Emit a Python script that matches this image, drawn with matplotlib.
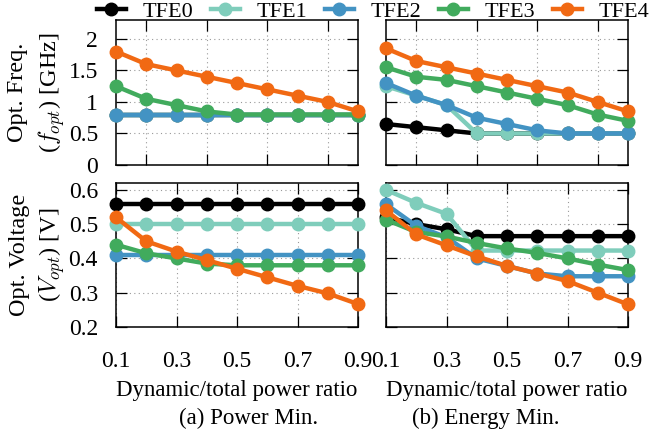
import matplotlib
matplotlib.use("Agg")
import matplotlib.pyplot as plt
import numpy as np

plt.rcParams['font.family'] = ['Liberation Serif', 'DejaVu Serif']
plt.rcParams['mathtext.fontset'] = 'cm'

ratio = [0.1, 0.2, 0.3, 0.4, 0.5, 0.6, 0.7, 0.8, 0.9]
names = ["TFE0", "TFE1", "TFE2", "TFE3", "TFE4"]
colors = ["#000000", "#7fcdbb", "#4393c3", "#41ab5d", "#f16913"]

# (a) Power Min. - optimal frequency [GHz]
freq_power = {
    "TFE0": [0.8, 0.8, 0.8, 0.8, 0.8, 0.8, 0.8, 0.8, 0.8],
    "TFE1": [0.8, 0.8, 0.8, 0.8, 0.8, 0.8, 0.8, 0.8, 0.8],
    "TFE2": [0.8, 0.8, 0.8, 0.8, 0.8, 0.8, 0.8, 0.8, 0.8],
    "TFE3": [1.25, 1.05, 0.95, 0.85, 0.8, 0.8, 0.8, 0.8, 0.8],
    "TFE4": [1.8, 1.6, 1.5, 1.4, 1.3, 1.2, 1.1, 1.0, 0.85],
}
# (b) Energy Min. - optimal frequency [GHz]
freq_energy = {
    "TFE0": [0.65, 0.6, 0.55, 0.5, 0.5, 0.5, 0.5, 0.5, 0.5],
    "TFE1": [1.25, 1.1, 0.95, 0.5, 0.5, 0.5, 0.5, 0.5, 0.5],
    "TFE2": [1.3, 1.1, 0.95, 0.75, 0.65, 0.55, 0.5, 0.5, 0.5],
    "TFE3": [1.55, 1.4, 1.35, 1.25, 1.15, 1.05, 0.95, 0.8, 0.7],
    "TFE4": [1.85, 1.65, 1.55, 1.45, 1.35, 1.25, 1.15, 1.0, 0.85],
}
# (a) Power Min. - optimal voltage [V]
volt_power = {
    "TFE0": [0.56, 0.56, 0.56, 0.56, 0.56, 0.56, 0.56, 0.56, 0.56],
    "TFE1": [0.5, 0.5, 0.5, 0.5, 0.5, 0.5, 0.5, 0.5, 0.5],
    "TFE2": [0.41, 0.41, 0.41, 0.41, 0.41, 0.41, 0.41, 0.41, 0.41],
    "TFE3": [0.44, 0.415, 0.40, 0.385, 0.38, 0.38, 0.38, 0.38, 0.38],
    "TFE4": [0.52, 0.45, 0.42, 0.395, 0.37, 0.345, 0.32, 0.298, 0.267],
}
# (b) Energy Min. - optimal voltage [V]
volt_energy = {
    "TFE0": [0.52, 0.50, 0.485, 0.465, 0.465, 0.465, 0.465, 0.465, 0.465],
    "TFE1": [0.60, 0.562, 0.53, 0.423, 0.423, 0.423, 0.423, 0.423, 0.423],
    "TFE2": [0.558, 0.495, 0.462, 0.40, 0.378, 0.356, 0.348, 0.348, 0.348],
    "TFE3": [0.513, 0.477, 0.464, 0.445, 0.429, 0.416, 0.40, 0.382, 0.366],
    "TFE4": [0.54, 0.47, 0.438, 0.406, 0.378, 0.356, 0.334, 0.30, 0.266],
}

W, H = 649, 434
fig = plt.figure(figsize=(W / 100, H / 100), dpi=100)

def ax_at(x0, y0, x1, y1):
    return fig.add_axes([x0 / W, 1 - y1 / H, (x1 - x0) / W, (y1 - y0) / H])

ax_tl = ax_at(116, 20, 358, 165)
ax_tr = ax_at(386, 20, 628, 165)
ax_bl = ax_at(116, 183, 358, 327)
ax_br = ax_at(386, 183, 628, 327)

FS = 17
lines = []
for ax, data in [(ax_tl, freq_power), (ax_tr, freq_energy),
                 (ax_bl, volt_power), (ax_br, volt_energy)]:
    for name, c in zip(names, colors):
        ln, = ax.plot(ratio, data[name], color=c, lw=3.2, marker='o', ms=9,
                      clip_on=False, zorder=3, label=name)
        if ax is ax_tl:
            lines.append(ln)
    ax.set_xlim(0.1, 0.9)
    ax.grid(True, linestyle=(0, (1, 3)), color='#999999', lw=0.8)
    ax.tick_params(direction='in', top=True, right=True, length=8, width=0.9,
                   labelsize=FS)
    for sp in ax.spines.values():
        sp.set_linewidth(1.1)
    ax.set_axisbelow(True)

for ax in (ax_tl, ax_tr):
    ax.set_ylim(0, 2.3)
    ax.set_yticks([0, 0.5, 1, 1.5, 2])
    ax.set_xticks([0.2, 0.4, 0.6, 0.8])
    ax.set_xticklabels([])
for ax in (ax_bl, ax_br):
    ax.set_ylim(0.2, 0.62)
    ax.set_yticks([0.2, 0.3, 0.4, 0.5, 0.6])
    ax.set_xticks([0.1, 0.3, 0.5, 0.7, 0.9])
    ax.set_xticklabels(["0.1", "0.3", "0.5", "0.7", "0.9"])
    ax.tick_params(axis='x', pad=17)
    ax.set_xlabel("Dynamic/total power ratio", fontsize=16.5, labelpad=6)

for ax in (ax_tr, ax_br):
    ax.set_yticklabels([])
ax_tl.set_yticklabels(["0", "0.5", "1", "1.5", "2"])
ax_bl.set_yticklabels(["0.2", "0.3", "0.4", "0.5", "0.6"])
for ax in (ax_tl, ax_bl):
    ax.tick_params(axis='y', pad=13)

ax_tl.set_ylabel("Opt. Freq.\n($f_{opt}$) [GHz]", fontsize=17.5, labelpad=1,
                 linespacing=1.4)
ax_bl.set_ylabel("Opt. Voltage\n($V_{opt}$) [V]", fontsize=17.5, labelpad=1,
                 linespacing=1.4)

fig.text(249 / W, 1 - 418 / H, "(a) Power Min.", ha='center', va='center',
         fontsize=16.5)
fig.text(486 / W, 1 - 418 / H, "(b) Energy Min.", ha='center', va='center',
         fontsize=16.5)

fig.legend(handles=lines, labels=names, loc='center',
           bbox_to_anchor=(373 / W, 1 - 12 / H), ncol=5, frameon=False,
           fontsize=16, handlelength=1.3, handletextpad=0.75,
           columnspacing=0.8, borderpad=0, borderaxespad=0)

fig.savefig("out.png", dpi=100)
